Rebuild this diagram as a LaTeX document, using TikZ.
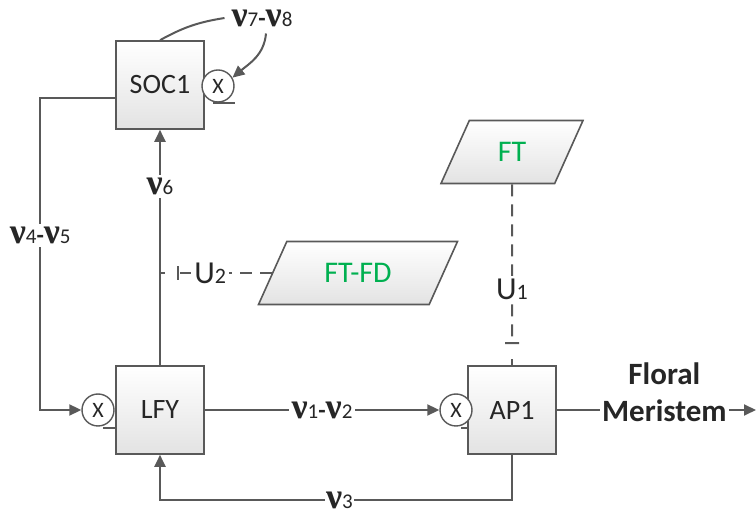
\documentclass[tikz,border=0pt]{standalone}
\usepackage{fontspec}
\setmainfont{Carlito}
\newfontfamily\nufont{Liberation Serif}
\usetikzlibrary{arrows.meta,shapes.geometric}
\definecolor{ln}{RGB}{89,89,89}
\definecolor{txt}{RGB}{38,38,38}
\definecolor{ftgreen}{RGB}{0,176,80}
% bold nu with a small index
\newcommand{\nux}[1]{{\nufont\bfseries\fontsize{18}{18}\selectfont ν}{\fontsize{10.5}{10.5}\selectfont #1}}
\newcommand{\nudash}{{\bfseries\fontsize{12}{12}\selectfont -}}
\newcommand{\uidx}[1]{{\fontsize{11}{11}\selectfont #1}}
\tikzset{
  blk/.style={rectangle,draw=ln,line width=0.8pt,top color=white,bottom color=gray!22,
    minimum width=44pt,minimum height=44pt,font=\fontsize{14}{14}\selectfont,text=txt},
  para/.style={trapezium,trapezium left angle=49,trapezium right angle=131,
    trapezium stretches body,draw=ln,line width=0.8pt,top color=white,bottom color=gray!22,
    minimum height=31.5pt,font=\fontsize{15}{15}\selectfont,text=ftgreen},
  mult/.style={circle,draw=ln,line width=0.7pt,fill=white,minimum size=16pt,inner sep=0pt,
    font=\fontsize{11}{11}\selectfont,text=txt},
  conn/.style={draw=ln,line width=1pt},
  arr/.style={conn,-{Triangle[length=6pt,width=5.5pt]}},
  inh/.style={conn,dash pattern=on 6pt off 4pt,-{Bar[width=7pt]}},
  nulab/.style={fill=white,inner sep=1.5pt,text=txt},
  ulab/.style={fill=white,inner sep=1.5pt,text=txt,font=\fontsize{16}{16}\selectfont}
}
\begin{document}
\begin{tikzpicture}[x=0.5pt,y=0.5pt]
  \useasboundingbox (0,0) rectangle (756,514);
  % multiplier ticks (drawn first, boxes hide part of them)
  \coordinate (tsoc) at (213,411);
  \coordinate (tlfy) at (103,86);
  \coordinate (tap1) at (461,86);
  \draw[conn,line width=0.8pt] (tsoc) -- ++(22,0);
  \draw[conn,line width=0.8pt] (tlfy) -- ++(14,0);
  \draw[conn,line width=0.8pt] (tap1) -- ++(12,0);
  % blocks
  \node[blk] (soc) at (160,429) {SOC1};
  \node[blk] (lfy) at (160,104) {LFY};
  \node[blk] (ap1) at (512,104) {AP1};
  \node[para,minimum width=99.5pt] (ftfd) at (358,241) {FT-FD};
  \node[para,minimum width=71pt] (ft) at (512,362) {FT};
  % multipliers
  \node[mult] (msoc) at (218,428) {X};
  \node[mult] (mlfy) at (98,104) {X};
  \node[mult] (map1) at (456,104) {X};
  \node[text=txt] (n78) at (262,496) {\nux{7}\nudash\nux{8}};
  \coordinate (fm) at (756,104);
  % connectors
  \draw[conn] (soc.north) to[bend left=10] (n78.west);
  \draw[arr] ([xshift=2pt]n78.south) to[out=-95,in=40] (msoc.30);
  \draw[arr] ([yshift=-6.5pt]soc.west) -- ++(-75,0)
    |- node[nulab,pos=0.22] {\nux{4}\nudash\nux{5}} (mlfy);
  \draw[arr] (lfy.north) -- node[nulab,pos=0.76] {\nux{6}} (soc.south);
  \draw[inh,shorten >=8.5pt] (ftfd.west) -- node[ulab,pos=0.55] {U\uidx{2}} (lfy.north |- ftfd.west);
  \draw[conn] (lfy.north |- ftfd.west) -- ++(5,0);
  \draw[inh,shorten >=10.5pt] (ft.south) -- node[ulab,pos=0.58] {U\uidx{1}} (ap1.north);
  \draw[conn] (ap1.north) -- ++(0,6);
  \draw[arr] (lfy.east) -- node[nulab] {\nux{1}\nudash\nux{2}} (map1);
  \draw[arr] (ap1.east) -- node[fill=white,inner sep=1pt,pos=0.54,yshift=9pt,align=center,
    font=\bfseries\fontsize{15.5}{18.5}\selectfont,text=black!85] {Floral\\Meristem} (fm);
  \draw[arr] (ap1.south) -- ++(0,-45) -| node[nulab,inner sep=0.5pt,text depth=0pt,pos=0.245] {\nux{3}} (lfy.south);
\end{tikzpicture}
\end{document}
